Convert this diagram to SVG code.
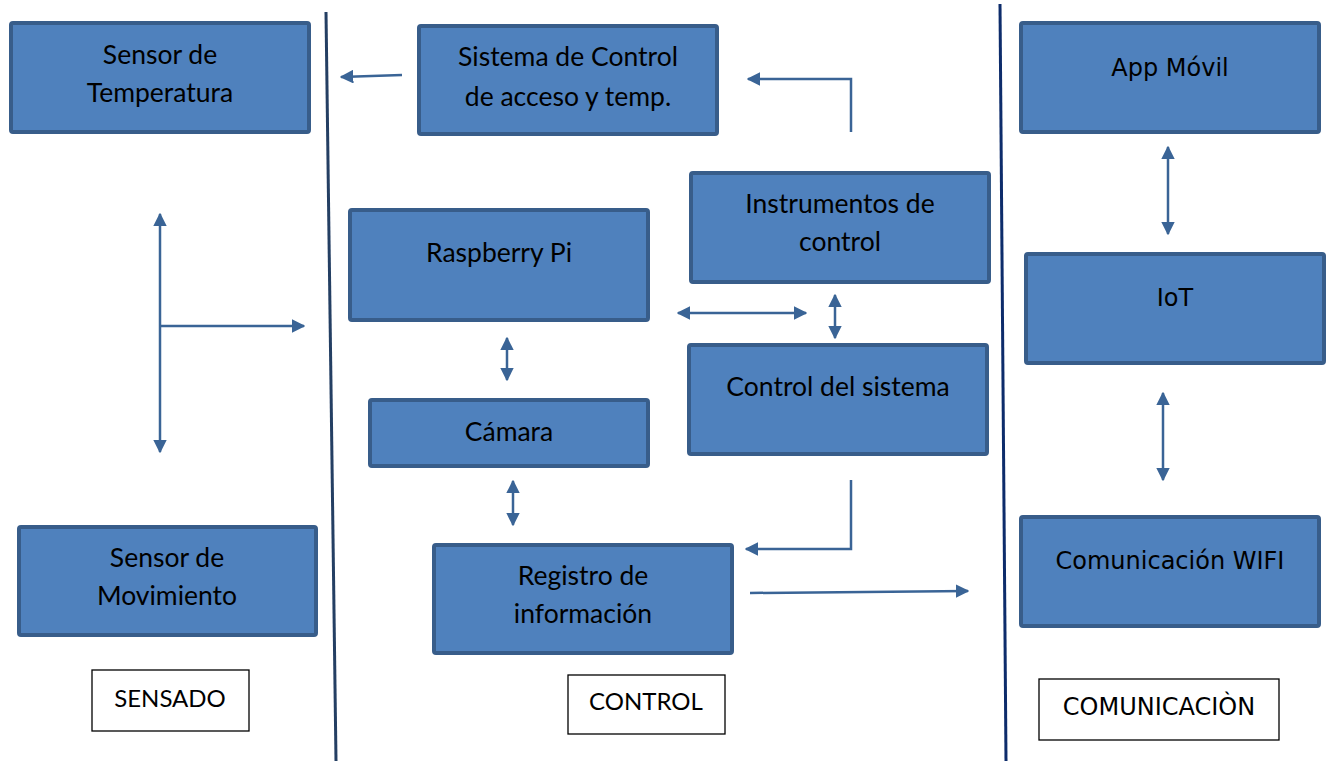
<svg xmlns="http://www.w3.org/2000/svg" width="1328" height="761" viewBox="0 0 1328 761">
<style>
.box{fill:#4f81bd;stroke:#385d8a;stroke-width:4}
.lbl{fill:#fff;stroke:#000;stroke-width:1.3}
.t{font-family:Lato,"Liberation Sans",sans-serif;font-size:26.5px;fill:#000;text-anchor:middle}
.cap{font-size:24px}
.g{font-family:"DejaVu Sans","Liberation Sans",sans-serif;font-size:24px;fill:#000;text-anchor:middle}
.c{fill:none;stroke:#3a6496;stroke-width:2.5}
.sep{fill:none;stroke:#243f63;stroke-width:3}
</style>
<defs>
<marker id="ah" viewBox="0 0 10 10" refX="9" refY="5" markerWidth="5.5" markerHeight="5.5" orient="auto-start-reverse" markerUnits="strokeWidth">
<path d="M0,0 L10,5 L0,10 z" fill="#3a6496"/>
</marker>
</defs>
<rect width="1328" height="761" fill="#fff"/>
<g id="separators">
<line class="sep" x1="326" y1="12" x2="336" y2="761"/>
<line class="sep" x1="1000" y1="4" x2="1006" y2="761" style="stroke:#0d2c6b"/>
</g>
<g id="n-sensor-temp"><rect class="box" x="11" y="23" width="298" height="109" rx="2"/><text class="t" x="160" y="64">Sensor de</text><text class="t" x="160" y="102">Temperatura</text></g>
<g id="n-sensor-mov"><rect class="box" x="19" y="527" width="297" height="108" rx="2"/><text class="t" x="167" y="567">Sensor de</text><text class="t" x="167" y="605">Movimiento</text></g>
<g id="n-sensado"><rect class="lbl" x="92" y="670" width="157" height="61"/><text class="t cap" x="170" y="707">SENSADO</text></g>
<g id="n-sistema"><rect class="box" x="419" y="26" width="298" height="108" rx="2"/><text class="t" x="568" y="66">Sistema de Control</text><text class="t" x="568" y="106">de acceso y temp.</text></g>
<g id="n-raspberry"><rect class="box" x="350" y="210" width="298" height="110" rx="2"/><text class="t" x="499" y="262">Raspberry Pi</text></g>
<g id="n-instrumentos"><rect class="box" x="691" y="173" width="298" height="109" rx="2"/><text class="t" x="840" y="213">Instrumentos de</text><text class="t" x="840" y="251">control</text></g>
<g id="n-control-sistema"><rect class="box" x="689" y="345" width="298" height="109" rx="2"/><text class="t" x="838" y="396">Control del sistema</text></g>
<g id="n-camara"><rect class="box" x="370" y="400" width="278" height="66" rx="2"/><text class="t" x="509" y="441">Cámara</text></g>
<g id="n-registro"><rect class="box" x="434" y="545" width="298" height="108" rx="2"/><text class="t" x="583" y="585">Registro de</text><text class="t" x="583" y="623">información</text></g>
<g id="n-control-lbl"><rect class="lbl" x="568" y="675" width="157" height="59"/><text class="t cap" x="646" y="710">CONTROL</text></g>
<g id="n-app"><rect class="box" x="1021" y="23" width="298" height="109" rx="2"/><text class="g" x="1170" y="76">App Móvil</text></g>
<g id="n-iot"><rect class="box" x="1026" y="254" width="298" height="109" rx="2"/><text class="g" x="1175" y="306">IoT</text></g>
<g id="n-wifi"><rect class="box" x="1021" y="517" width="298" height="109" rx="2"/><text class="g" x="1170" y="569">Comunicación WIFI</text></g>
<g id="n-comunicacion"><rect class="lbl" x="1039" y="679" width="240" height="61"/><text class="g" x="1159" y="715">COMUNICACIÒN</text></g>
<g id="connectors">
<path class="c" d="M402,75 L341,77" marker-end="url(#ah)"/>
<path class="c" d="M851,132 L851,79 L748,79" marker-end="url(#ah)"/>
<path class="c" d="M160,452 L160,214" marker-end="url(#ah)" marker-start="url(#ah)"/>
<path class="c" d="M160,326 L304,326" marker-end="url(#ah)"/>
<path class="c" d="M678,313 L806,313" marker-end="url(#ah)" marker-start="url(#ah)"/>
<path class="c" d="M835,295 L835,338" marker-end="url(#ah)" marker-start="url(#ah)"/>
<path class="c" d="M507,338 L507,380" marker-end="url(#ah)" marker-start="url(#ah)"/>
<path class="c" d="M513,481 L513,525" marker-end="url(#ah)" marker-start="url(#ah)"/>
<path class="c" d="M851,480 L851,549 L746,549" marker-end="url(#ah)"/>
<path class="c" d="M750,593 L968,591" marker-end="url(#ah)"/>
<path class="c" d="M1168,147 L1168,234" marker-end="url(#ah)" marker-start="url(#ah)"/>
<path class="c" d="M1163,393 L1163,480" marker-end="url(#ah)" marker-start="url(#ah)"/>
</g>
</svg>
